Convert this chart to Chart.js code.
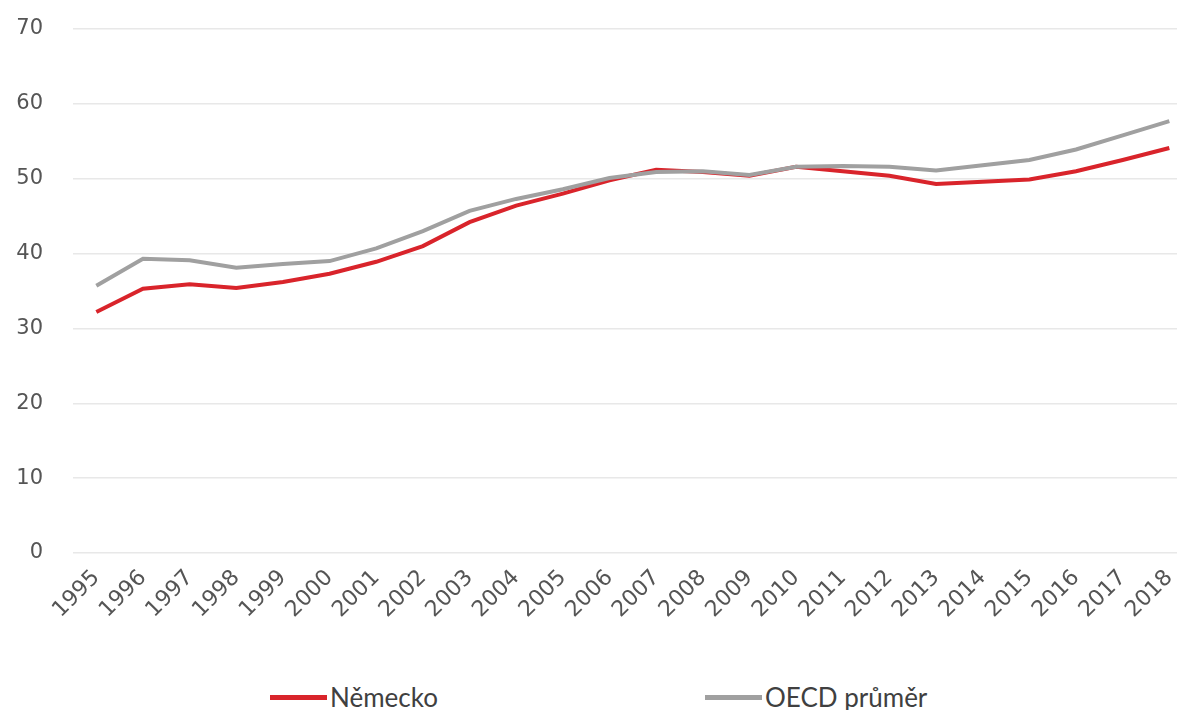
<!DOCTYPE html>
<html>
<head>
<meta charset="utf-8">
<script src="https://cdn.jsdelivr.net/npm/chart.js@4/dist/chart.umd.min.js"></script>
<style>
  html, body { margin:0; padding:0; background:#fff; overflow:hidden; width:1177px; height:710px; }
  #wrap { position:absolute; left:0; top:0; width:1200px; height:640px; }
  .leg { position:absolute; top:682px; height:30px; font-family:Lato, "Open Sans", sans-serif; font-size:26px; color:#404040; display:flex; align-items:center; white-space:nowrap; }
  .leg i { display:inline-block; width:57px; height:5px; margin-right:3px; }
</style>
</head>
<body>
<div id="wrap"><canvas id="c"></canvas></div>
<div class="leg" id="leg0" style="left:270px"><i style="background:#d9242b"></i><span>Německo</span></div>
<div class="leg" id="leg1" style="left:705px"><i style="background:#a0a0a0"></i><span>OECD průměr</span></div>
<script>
const years = ['1995','1996','1997','1998','1999','2000','2001','2002','2003','2004','2005','2006','2007','2008','2009','2010','2011','2012','2013','2014','2015','2016','2017','2018'];
const nemecko = [32.2,35.3,35.9,35.4,36.2,37.3,38.9,41.0,44.2,46.4,48.0,49.8,51.2,50.9,50.4,51.6,51.0,50.4,49.3,49.6,49.9,51.0,52.5,54.1];
const oecd = [35.7,39.3,39.1,38.1,38.6,39.0,40.7,43.0,45.7,47.3,48.6,50.1,50.9,51.0,50.5,51.6,51.7,51.6,51.1,51.8,52.5,53.9,55.8,57.7];
const yMin = 0, yMax = 70, yStep = 10;
const seriesNames = ['Německo','OECD průměr'];

const tickFont = { family: '"DejaVu Sans", sans-serif', size: 21 };
new Chart(document.getElementById('c'), {
  type: 'line',
  data: {
    labels: years,
    datasets: [
      { label: seriesNames[0], data: nemecko, borderColor: '#d9242b', backgroundColor: '#d9242b', borderWidth: 4, pointRadius: 0, tension: 0, order: 1 },
      { label: seriesNames[1], data: oecd, borderColor: '#a0a0a0', backgroundColor: '#a0a0a0', borderWidth: 4, pointRadius: 0, tension: 0, order: 0 }
    ]
  },
  options: {
    responsive: true,
    maintainAspectRatio: false,
    animation: false,
    layout: { padding: { top: 29, right: 0, left: 0, bottom: 0 } },
    plugins: { legend: { display: false }, tooltip: { enabled: false } },
    scales: {
      x: {
        offset: true,
        grid: { display: false, drawTicks: false },
        border: { display: false },
        ticks: { color: '#555555', font: { family: '"DejaVu Sans", sans-serif', size: 22 }, minRotation: 45, maxRotation: 45, padding: 12, autoSkip: false },
        afterFit(scale) { scale.height = 87; }
      },
      y: {
        min: yMin, max: yMax,
        grid: { color: '#e8e8e8', lineWidth: 1.5, drawTicks: false },
        border: { display: false },
        ticks: { stepSize: yStep, color: '#555555', font: tickFont, padding: 30 },
        afterFit(scale) { scale.width = 73; scale.paddingTop = 0; scale.paddingBottom = 0; }
      }
    }
  }
});
</script>
</body>
</html>
